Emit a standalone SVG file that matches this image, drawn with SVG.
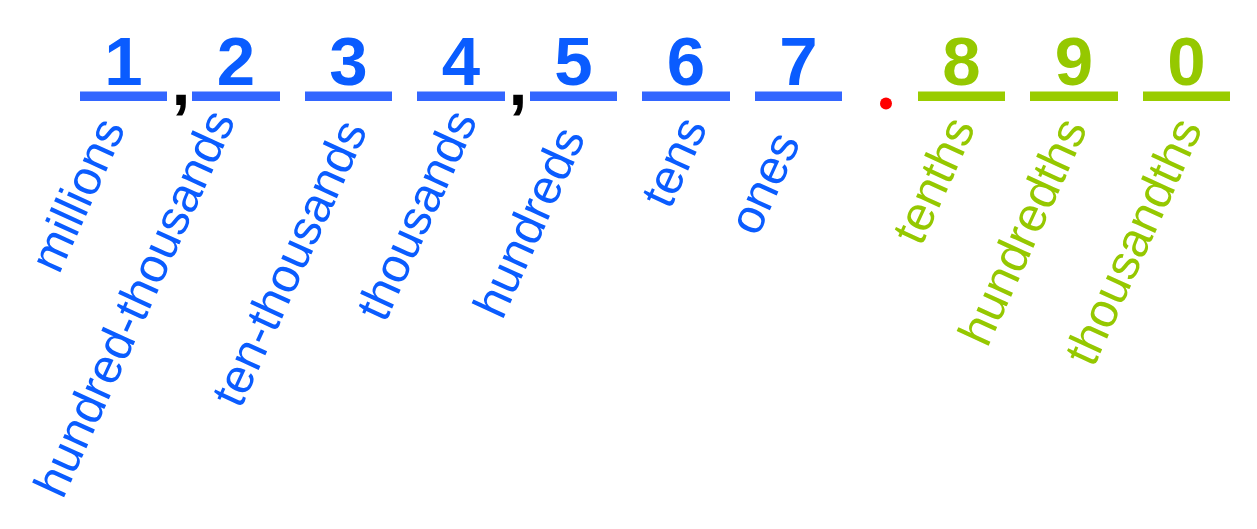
<svg xmlns="http://www.w3.org/2000/svg" width="1257" height="529" viewBox="0 0 1257 529">
<style>
.dig{font-family:"Liberation Sans",Arial,sans-serif;font-weight:bold;font-size:69px;text-anchor:middle}
.lbl{font-family:"Liberation Sans",Arial,sans-serif;font-size:48.5px;text-anchor:end}
.b{fill:#0a5cff}
.g{fill:#95c800}
.bb{fill:#3366ff}
.gb{fill:#99cc00}
.sep{font-family:"Liberation Sans",Arial,sans-serif;font-weight:bold;font-size:68px;text-anchor:middle;fill:#000}
</style>
<rect width="1257" height="529" fill="#fff"/>
<g id="d1"><rect class="bb" x="80" y="91.5" width="87" height="9.5"/><text class="dig b" x="123.5" y="85">1</text><text class="lbl b" transform="translate(126,128) rotate(-65.5)">millions</text></g>
<text class="sep" x="181" y="105">,</text>
<g id="d2"><rect class="bb" x="192" y="91.5" width="88" height="9.5"/><text class="dig b" x="236" y="85">2</text><text class="lbl b" transform="translate(236,120) rotate(-65.5)">hundred-thousands</text></g>
<g id="d3"><rect class="bb" x="305" y="91.5" width="87" height="9.5"/><text class="dig b" x="348.5" y="85">3</text><text class="lbl b" transform="translate(368,130) rotate(-65.5)">ten-thousands</text></g>
<g id="d4"><rect class="bb" x="417" y="91.5" width="88" height="9.5"/><text class="dig b" x="461" y="85">4</text><text class="lbl b" transform="translate(478,120) rotate(-65.5)">thousands</text></g>
<text class="sep" x="518" y="105">,</text>
<g id="d5"><rect class="bb" x="530" y="91.5" width="87" height="9.5"/><text class="dig b" x="573.5" y="85">5</text><text class="lbl b" transform="translate(586,137) rotate(-65.5)">hundreds</text></g>
<g id="d6"><rect class="bb" x="642" y="91.5" width="88" height="9.5"/><text class="dig b" x="686" y="85">6</text><text class="lbl b" transform="translate(708,127) rotate(-65.5)">tens</text></g>
<g id="d7"><rect class="bb" x="755" y="91.5" width="87" height="9.5"/><text class="dig b" x="798.5" y="85">7</text><text class="lbl b" transform="translate(801,142) rotate(-65.5)">ones</text></g>
<circle cx="886" cy="103.5" r="6" fill="#ff0000"/>
<g id="d8"><rect class="gb" x="918" y="91.5" width="87" height="9.5"/><text class="dig g" x="961.5" y="85">8</text><text class="lbl g" transform="translate(976,127) rotate(-65.5)">tenths</text></g>
<g id="d9"><rect class="gb" x="1030" y="91.5" width="88" height="9.5"/><text class="dig g" x="1074" y="85">9</text><text class="lbl g" transform="translate(1088,128) rotate(-65.5)">hundredths</text></g>
<g id="d10"><rect class="gb" x="1143" y="91.5" width="87" height="9.5"/><text class="dig g" x="1186.5" y="85">0</text><text class="lbl g" transform="translate(1203,128) rotate(-65.5)">thousandths</text></g>
<g id="connectors"/>
</svg>
